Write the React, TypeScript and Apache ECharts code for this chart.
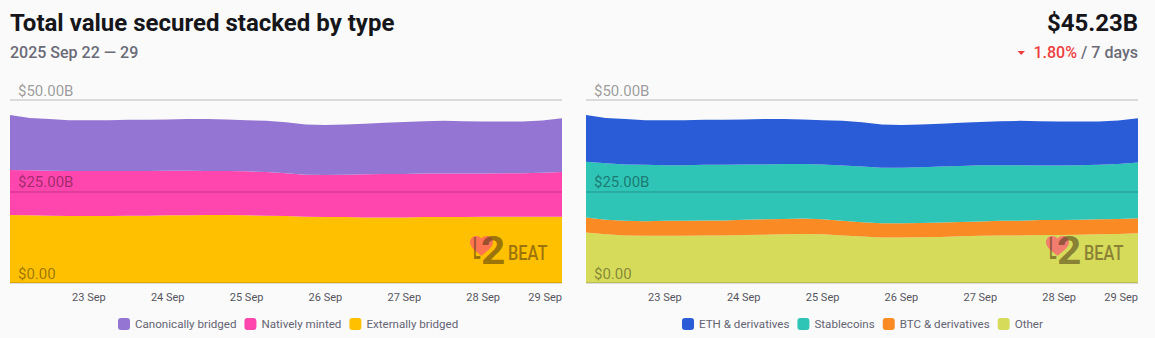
import React, { useEffect, useRef } from 'react';
import * as echarts from 'echarts';

// 6-hourly timestamps, 2025 Sep 22 00:00 -> Sep 29 00:00
const timeLabels: string[] = [
  '22 Sep 00:00', '22 Sep 06:00', '22 Sep 12:00', '22 Sep 18:00',
  '23 Sep 00:00', '23 Sep 06:00', '23 Sep 12:00', '23 Sep 18:00',
  '24 Sep 00:00', '24 Sep 06:00', '24 Sep 12:00', '24 Sep 18:00',
  '25 Sep 00:00', '25 Sep 06:00', '25 Sep 12:00', '25 Sep 18:00',
  '26 Sep 00:00', '26 Sep 06:00', '26 Sep 12:00', '26 Sep 18:00',
  '27 Sep 00:00', '27 Sep 06:00', '27 Sep 12:00', '27 Sep 18:00',
  '28 Sep 00:00', '28 Sep 06:00', '28 Sep 12:00', '28 Sep 18:00',
  '29 Sep 00:00',
];

// Left chart (billions USD)
const externallyBridged: number[] = [
  18.6, 18.5, 18.4, 18.3, 18.3, 18.3, 18.4, 18.4, 18.5, 18.5, 18.6, 18.6, 18.5, 18.4, 18.3,
  18.1, 18.0, 18.0, 17.9, 17.9, 17.9, 18.0, 18.0, 18.0, 18.1, 18.1, 18.1, 18.1, 18.1,
];
const nativelyMinted: number[] = [
  12.3, 12.3, 12.3, 12.3, 12.3, 12.3, 12.2, 12.2, 12.2, 12.2, 12.0, 12.0, 12.0, 11.9, 11.7,
  11.5, 11.5, 11.6, 11.8, 11.9, 11.9, 11.9, 11.9, 11.9, 11.8, 11.9, 11.9, 12.0, 12.2,
];
const canonicallyBridged: number[] = [
  15.0, 14.3, 14.1, 13.9, 13.9, 13.9, 14.0, 14.0, 14.0, 14.1, 14.2, 14.1, 14.0, 14.0, 13.9,
  13.7, 13.7, 13.7, 13.8, 14.0, 14.2, 14.3, 14.4, 14.3, 14.2, 14.1, 14.1, 14.3, 14.7,
];

// Right chart (billions USD)
const other: number[] = [
  13.8, 13.3, 13.0, 12.9, 12.9, 12.9, 13.0, 13.0, 13.1, 13.2, 13.3, 13.4, 13.3, 13.0, 12.7,
  12.4, 12.4, 12.5, 12.6, 12.8, 12.9, 13.0, 13.0, 13.1, 13.1, 13.2, 13.3, 13.4, 13.6,
];
const btcDerivatives: number[] = [
  4.1, 4.0, 4.0, 4.0, 4.1, 4.1, 4.1, 4.1, 4.2, 4.2, 4.2, 4.2, 4.1, 4.0, 3.9,
  3.9, 3.9, 3.9, 3.9, 3.9, 3.9, 4.0, 4.0, 4.1, 4.1, 4.1, 4.1, 4.1, 4.1,
];
const stablecoins: number[] = [
  15.2, 15.4, 15.4, 15.4, 15.2, 15.2, 15.2, 15.2, 15.1, 15.0, 15.0, 14.9, 15.0, 15.1, 15.2,
  15.2, 15.2, 15.2, 15.3, 15.3, 15.4, 15.2, 15.2, 14.9, 14.9, 14.9, 14.9, 15.0, 15.2,
];
const ethDerivatives: number[] = [
  12.8, 12.4, 12.4, 12.2, 12.3, 12.3, 12.3, 12.3, 12.3, 12.4, 12.3, 12.2, 12.1, 12.2, 12.1,
  11.8, 11.7, 11.7, 11.7, 11.8, 11.8, 12.0, 12.1, 12.1, 12.0, 11.9, 11.8, 11.9, 12.1,
];

const yTicks: number[] = [0, 25, 50];

const HEART =
  'M10,18 C4,13 0,10 0,5.5 C0,2.5 2.5,0 5.5,0 C7.5,0 9,1 10,2.5 C11,1 12.5,0 14.5,0 C17.5,0 20,2.5 20,5.5 C20,10 16,13 10,18 Z';
let registered = false;

const FONT = 'Roboto, "Noto Sans", sans-serif';

function logo(right: number) {
  const ink = 'rgba(70,50,20,0.55)';
  return {
    type: 'group',
    silent: true,
    children: [
      {
        type: 'l2heart',
        z: 20,
        x: right - 92,
        y: 236,
        scaleX: 1.15,
        scaleY: 1.1,
        style: { fill: 'rgba(255,80,120,0.68)' },
      },
      {
        type: 'text',
        z: 21,
        x: right - 89,
        y: 248.5,
        scaleX: 0.45,
        style: { text: 'L', font: `500 31px ${FONT}`, fill: ink, textAlign: 'left', textVerticalAlign: 'middle' },
      },
      {
        type: 'text',
        z: 21,
        x: right - 81,
        y: 251,
        scaleX: 1.12,
        style: { text: '2', font: `bold 38px ${FONT}`, fill: ink, textAlign: 'left', textVerticalAlign: 'middle' },
      },
      {
        type: 'text',
        z: 21,
        x: right - 54,
        y: 253.5,
        scaleX: 0.78,
        style: { text: 'BEAT', font: `500 21px ${FONT}`, fill: ink, textAlign: 'left', textVerticalAlign: 'middle' },
      },
    ],
  };
}

export default function App() {
  const ref = useRef<HTMLDivElement>(null);

  useEffect(() => {
    if (!ref.current) return;
    if (!registered) {
      echarts.graphic.registerShape('l2heart', echarts.graphic.extendPath(HEART, {}));
      registered = true;
    }
    const chart = echarts.init(ref.current, null, { renderer: 'svg' });

    const mkX = (gridIndex: number) => ({
      type: 'category',
      gridIndex,
      data: timeLabels,
      boundaryGap: false,
      axisLine: { show: false },
      axisTick: { show: false },
      splitLine: { show: false },
      axisLabel: {
        interval: (i: number) => i > 0 && i % 4 === 0,
        formatter: (v: string) => v.split(' ').slice(0, 2).join(' '),
        color: '#555560',
        fontSize: 11,
        fontFamily: FONT,
        margin: 9,
        alignMaxLabel: 'right',
      },
    });
    const mkY = (gridIndex: number) => ({
      type: 'value',
      gridIndex,
      min: yTicks[0],
      max: yTicks[yTicks.length - 1],
      interval: yTicks[1] - yTicks[0],
      z: 5,
      axisLine: { show: false },
      axisTick: { show: false },
      splitLine: { lineStyle: { color: 'rgba(0,0,0,0.12)', width: 2 } },
      axisLabel: {
        inside: true,
        margin: 8,
        verticalAlign: 'bottom',
        padding: [0, 0, 2, 0],
        color: 'rgba(0,0,0,0.4)',
        fontSize: 15,
        fontFamily: FONT,
        formatter: (v: number) => (v === 0 ? '$0.00' : '$' + v.toFixed(2) + 'B'),
      },
    });
    const area = (name: string, data: number[], color: string, idx: number, stack: string) => ({
      name,
      type: 'line',
      xAxisIndex: idx,
      yAxisIndex: idx,
      stack,
      data,
      color,
      symbol: 'none',
      showSymbol: false,
      lineStyle: { width: 0, color },
      areaStyle: { color, opacity: 1 },
    });
    const legendCommon = {
      top: 318,
      padding: 0,
      icon: 'roundRect',
      itemWidth: 12,
      itemHeight: 12,
      itemGap: 8,
      selectedMode: false,
      textStyle: { color: '#646473', fontSize: 11.6, fontFamily: FONT },
    };

    chart.setOption({
      animation: false,
      backgroundColor: 'transparent',
      grid: [
        { left: 10, top: 100, width: 552, height: 183 },
        { left: 586, top: 100, width: 552, height: 183 },
      ],
      xAxis: [mkX(0), mkX(1)],
      yAxis: [mkY(0), mkY(1)],
      legend: [
        { ...legendCommon, left: 118, data: ['Canonically bridged', 'Natively minted', 'Externally bridged'] },
        { ...legendCommon, left: 682, data: ['ETH & derivatives', 'Stablecoins', 'BTC & derivatives', 'Other'] },
      ],
      series: [
        area('Externally bridged', externallyBridged, '#ffc000', 0, 'left'),
        area('Natively minted', nativelyMinted, '#ff46af', 0, 'left'),
        area('Canonically bridged', canonicallyBridged, '#9575d3', 0, 'left'),
        area('Other', other, '#d6db5a', 1, 'right'),
        area('BTC & derivatives', btcDerivatives, '#fa8a23', 1, 'right'),
        area('Stablecoins', stablecoins, '#2ec4b6', 1, 'right'),
        area('ETH & derivatives', ethDerivatives, '#2a5cd8', 1, 'right'),
      ],
      graphic: [
        {
          type: 'text',
          x: 10,
          y: 23,
          style: { text: 'Total value secured stacked by type', font: `bold 24px ${FONT}`, fill: '#16161a', textAlign: 'left', textVerticalAlign: 'middle' },
        },
        {
          type: 'text',
          x: 10,
          y: 52,
          style: { text: '2025 Sep 22 — 29', font: `500 16px ${FONT}`, fill: '#6b6b78', textAlign: 'left', textVerticalAlign: 'middle' },
        },
        {
          type: 'text',
          x: 1138,
          y: 23,
          style: { text: '$45.23B', font: `bold 24px ${FONT}`, fill: '#16161a', textAlign: 'right', textVerticalAlign: 'middle' },
        },
        {
          type: 'text',
          x: 1138,
          y: 52,
          style: { text: '/ 7 days', font: `500 16px ${FONT}`, fill: '#6b6b78', textAlign: 'right', textVerticalAlign: 'middle' },
        },
        {
          type: 'text',
          x: 1077,
          y: 52,
          style: { text: '1.80%', font: `500 16px ${FONT}`, fill: '#ef3e3e', textAlign: 'right', textVerticalAlign: 'middle' },
        },
        {
          type: 'polygon',
          shape: { points: [[1017.5, 51], [1025, 51], [1021.25, 55]] },
          style: { fill: '#ef3e3e' },
        },
        logo(562),
        logo(1138),
      ],
    });
    return () => chart.dispose();
  }, []);

  return (
    <div
      ref={ref}
      style={{ position: 'absolute', left: 0, top: 0, width: 1155, height: 338, background: '#fafafa' }}
    />
  );
}
